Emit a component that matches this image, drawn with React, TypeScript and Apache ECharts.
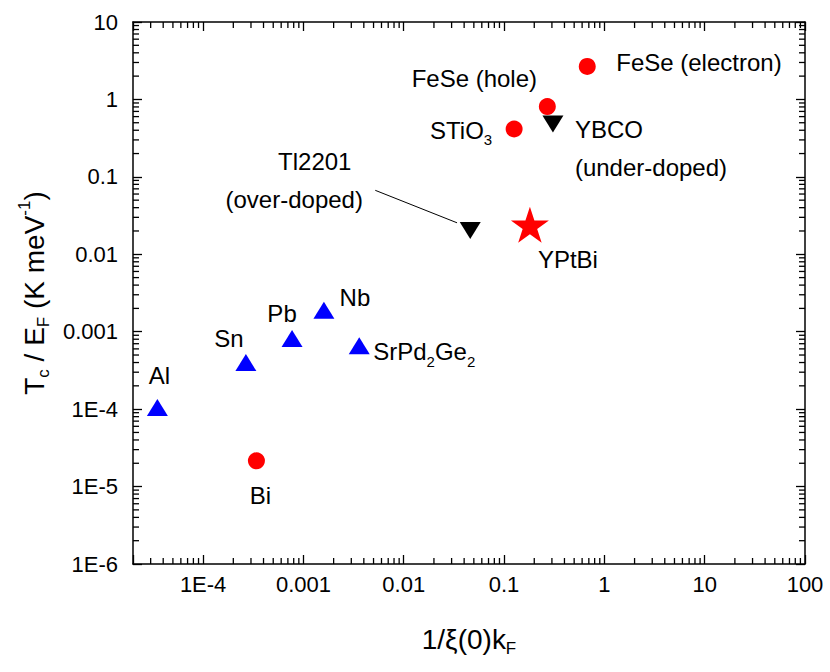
import React, { useEffect, useRef } from 'react';
import * as echarts from 'echarts';

// ---- axis ticks / labels ----
const majorXValues = [1e-4, 1e-3, 1e-2, 0.1, 1, 10, 100];
const majorXLabels = ['1E-4', '0.001', '0.01', '0.1', '1', '10', '100'];
const majorYValues = [1e-6, 1e-5, 1e-4, 1e-3, 1e-2, 0.1, 1, 10];
const majorYLabels = ['1E-6', '1E-5', '1E-4', '0.001', '0.01', '0.1', '1', '10'];
const X_MIN = 2e-5;
const X_MAX = 100;
const Y_MIN = 1e-6;
const Y_MAX = 10;

// ---- data ----
const conventionalNames = ['Al', 'Sn', 'Pb', 'Nb', 'SrPd2Ge2'];
const conventionalX = [3.5e-5, 2.67e-4, 7.7e-4, 1.6e-3, 3.6e-3];
const conventionalY = [1.05e-4, 4.0e-4, 8.2e-4, 1.9e-3, 6.6e-4];

const lowDensityNames = ['Bi', 'STiO3', 'FeSe (hole)', 'FeSe (electron)'];
const lowDensityX = [3.4e-4, 0.126, 0.27, 0.675];
const lowDensityY = [2.15e-5, 0.415, 0.81, 2.67];

const cuprateNames = ['Tl2201', 'YBCO'];
const cuprateX = [0.046, 0.307];
const cuprateY = [0.0203, 0.48];

const halfHeuslerNames = ['YPtBi'];
const halfHeuslerX = [0.181];
const halfHeuslerY = [0.024];

// leader line for the Tl2201 annotation (data coordinates)
const leaderFrom = [0.0052, 0.067];
const leaderTo = [0.034, 0.0255];

// ---- styling ----
const FONT = '"Liberation Sans", Arial, Helvetica, sans-serif';
const MAJOR_LEN = 9;
const MINOR_LEN = 6;

const STAR =
  'path://M50,0L61.23,34.55L97.55,34.55L68.17,55.9L79.39,90.45L50,69.1L20.61,90.45L31.83,55.9L2.45,34.55L38.77,34.55Z';

const labelSpec: Record<string, any> = {
  Al: { text: '{r|Al}', offset: [2, -32] },
  Sn: { text: '{r|Sn}', offset: [-17, -24] },
  Pb: { text: '{r|Pb}', offset: [-10, -25] },
  Nb: { text: '{r|Nb}', offset: [31, -13] },
  SrPd2Ge2: { text: '{r|SrPd}{sub|2}{r|Ge}{sub|2}', offset: [14, 6], align: 'left' },
  Bi: { text: '{r|Bi}', offset: [4, 35] },
  STiO3: { text: '{r|STiO}{sub|3}', offset: [-22, 1], align: 'right' },
  'FeSe (hole)': { text: '{r|FeSe (hole)}', offset: [-73, -28] },
  'FeSe (electron)': { text: '{r|FeSe (electron)}', offset: [29, -4], align: 'left' },
  YBCO: { text: '{r|YBCO}\n{r|(under-doped)}', offset: [22, 24], align: 'left', lineHeight: 38 },
  Tl2201: { text: '{t|Tl2201}\n{r|(over-doped)}', offset: [-176, -50], lineHeight: 38 },
  YPtBi: { text: '{r|YPtBi}', offset: [38, 35] },
};

const rich = {
  r: { fontSize: 24, fontFamily: FONT, color: '#000' },
  t: { fontSize: 24, fontFamily: FONT, color: '#000', padding: [0, 0, 0, 41] },
  sub: { fontSize: 15, lineHeight: 15, fontFamily: FONT, color: '#000', verticalAlign: 'bottom' },
};

function pointLabel(name: string) {
  const s = labelSpec[name];
  return {
    show: true,
    position: 'inside',
    offset: s.offset,
    align: s.align || 'center',
    verticalAlign: 'middle',
    formatter: s.text,
    fontSize: 24,
    fontFamily: FONT,
    color: '#000',
    lineHeight: s.lineHeight || 34,
    textBorderWidth: 0,
    rich,
  };
}

function items(names: string[], xs: number[], ys: number[]) {
  return names.map((n, i) => ({ name: n, value: [xs[i], ys[i]], label: pointLabel(n) }));
}

function minorTicks(lo: number, hi: number) {
  const out: number[] = [];
  for (let d = -8; d <= 3; d++) {
    for (let k = 2; k <= 9; k++) {
      const v = k * Math.pow(10, d);
      if (v > lo * 1.0001 && v < hi * 0.9999) out.push(v);
    }
  }
  return out;
}

function labelFor(values: number[], labels: string[]) {
  return (v: number) => {
    for (let i = 0; i < values.length; i++) {
      if (Math.abs(v - values[i]) <= values[i] * 1e-6) return labels[i];
    }
    return '';
  };
}

const axisLineStyle = { show: true, onZero: false, lineStyle: { color: '#000', width: 1.5 } };
const tickStyle = { show: true, inside: true, length: MAJOR_LEN, lineStyle: { color: '#000', width: 1.3 } };
const tickLabel = { fontSize: 22, fontFamily: FONT, color: '#000' };

export default function App() {
  const ref = useRef<HTMLDivElement>(null);

  useEffect(() => {
    document.body.style.margin = '0';
    if (!ref.current) return;
    const chart = echarts.init(ref.current, null, { renderer: 'svg' });

    const option: any = {
      animation: false,
      grid: { left: 133, right: 25, top: 22, bottom: 108 },
      xAxis: [
        {
          type: 'log',
          logBase: 10,
          min: X_MIN,
          max: X_MAX,
          position: 'bottom',
          axisLine: axisLineStyle,
          axisTick: tickStyle,
          splitLine: { show: false },
          axisLabel: { ...tickLabel, margin: 9, formatter: labelFor(majorXValues, majorXLabels) },
          name: '{r|1/ξ(0)k}{sub|F}',
          nameLocation: 'middle',
          nameGap: 57,
          nameTextStyle: {
            fontSize: 28,
            fontFamily: FONT,
            color: '#000',
            rich: {
              r: { fontSize: 28, lineHeight: 36, fontFamily: FONT, color: '#000' },
              sub: { fontSize: 17, lineHeight: 17, fontFamily: FONT, color: '#000', verticalAlign: 'bottom' },
            },
          },
        },
        {
          type: 'log',
          logBase: 10,
          min: X_MIN,
          max: X_MAX,
          position: 'top',
          axisLine: axisLineStyle,
          axisTick: tickStyle,
          splitLine: { show: false },
          axisLabel: { show: false },
        },
      ],
      yAxis: [
        {
          type: 'log',
          logBase: 10,
          min: Y_MIN,
          max: Y_MAX,
          position: 'left',
          axisLine: axisLineStyle,
          axisTick: tickStyle,
          splitLine: { show: false },
          axisLabel: { ...tickLabel, margin: 15, formatter: labelFor(majorYValues, majorYLabels) },
          name: '{r|T}{sub|c}{r| / E}{sub|F}{r| (K meV}{sup|-1}{r|)}',
          nameLocation: 'middle',
          nameRotate: 90,
          nameGap: 80,
          nameTextStyle: {
            fontSize: 28,
            fontFamily: FONT,
            color: '#000',
            rich: {
              r: { fontSize: 28, lineHeight: 36, fontFamily: FONT, color: '#000' },
              sub: { fontSize: 17, lineHeight: 17, fontFamily: FONT, color: '#000', verticalAlign: 'bottom' },
              sup: { fontSize: 17, lineHeight: 17, fontFamily: FONT, color: '#000', verticalAlign: 'top' },
            },
          },
        },
        {
          type: 'log',
          logBase: 10,
          min: Y_MIN,
          max: Y_MAX,
          position: 'right',
          axisLine: axisLineStyle,
          axisTick: tickStyle,
          splitLine: { show: false },
          axisLabel: { show: false },
        },
      ],
      series: [
        {
          type: 'scatter',
          name: 'conventional',
          symbol: 'triangle',
          symbolSize: [21, 17],
          itemStyle: { color: '#0000ff', opacity: 1 },
          emphasis: { disabled: true },
          data: items(conventionalNames, conventionalX, conventionalY),
          z: 3,
        },
        {
          type: 'scatter',
          name: 'low density',
          symbol: 'circle',
          symbolSize: 17,
          itemStyle: { color: '#ff0000', opacity: 1 },
          emphasis: { disabled: true },
          data: items(lowDensityNames, lowDensityX, lowDensityY),
          z: 3,
        },
        {
          type: 'scatter',
          name: 'cuprates',
          symbol: 'triangle',
          symbolRotate: 180,
          symbolSize: [21, 17],
          itemStyle: { color: '#000', opacity: 1 },
          emphasis: { disabled: true },
          data: items(cuprateNames, cuprateX, cuprateY),
          z: 3,
          markLine: {
            silent: true,
            symbol: ['none', 'none'],
            label: { show: false },
            lineStyle: { color: '#000', width: 1, type: 'solid', opacity: 1 },
            data: [[{ coord: leaderFrom }, { coord: leaderTo }]],
          },
        },
        {
          type: 'scatter',
          name: 'YPtBi',
          symbol: STAR,
          symbolSize: [38, 36],
          itemStyle: { color: '#ff0000', opacity: 1 },
          emphasis: { disabled: true },
          data: items(halfHeuslerNames, halfHeuslerX, halfHeuslerY),
          z: 3,
        },
      ],
    };

    chart.setOption(option);

    // minor ticks (2..9 per decade) on all four sides, positioned through the axes' own scales
    const px = (v: number) => chart.convertToPixel({ xAxisIndex: 0 } as any, v) as any as number;
    const py = (v: number) => chart.convertToPixel({ yAxisIndex: 0 } as any, v) as any as number;
    const left = px(X_MIN);
    const right = px(X_MAX);
    const top = py(Y_MAX);
    const bottom = py(Y_MIN);
    const elements: any[] = [];
    const tick = (x1: number, y1: number, x2: number, y2: number) =>
      elements.push({ type: 'line', z: 10, silent: true, shape: { x1, y1, x2, y2 }, style: { stroke: '#000', lineWidth: 1.3 } });
    minorTicks(X_MIN, X_MAX).forEach((v) => {
      const x = px(v);
      tick(x, bottom, x, bottom - MINOR_LEN);
      tick(x, top, x, top + MINOR_LEN);
    });
    minorTicks(Y_MIN, Y_MAX).forEach((v) => {
      const y = py(v);
      tick(left, y, left + MINOR_LEN, y);
      tick(right, y, right - MINOR_LEN, y);
    });
    chart.setOption({ graphic: elements });

    return () => chart.dispose();
  }, []);

  return <div ref={ref} style={{ width: 830, height: 672 }} />;
}
